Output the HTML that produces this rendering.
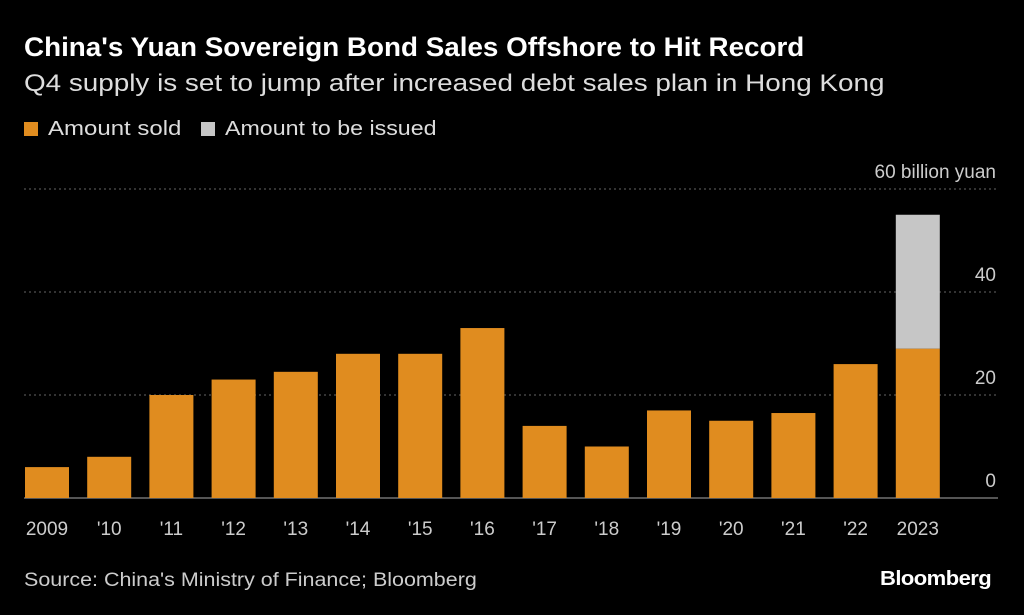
<!DOCTYPE html>
<html><head><meta charset="utf-8"><style>
body{margin:0;background:#000;width:1024px;height:615px;overflow:hidden;font-family:"Liberation Sans",sans-serif;color:#fff}
.t{position:absolute;white-space:nowrap;transform-origin:left top}
</style></head><body>
<div class="t" style="left:24px;top:32px;font-size:27px;font-weight:bold;transform:scaleX(1.03)">China's Yuan Sovereign Bond Sales Offshore to Hit Record</div>
<div class="t" style="left:24px;top:70px;font-size:24px;color:#ddd;transform:scaleX(1.16)">Q4 supply is set to jump after increased debt sales plan in Hong Kong</div>
<div class="t" style="left:24px;top:118px;font-size:20px;color:#ddd"><span style="display:inline-block;width:14px;height:14px;background:#e08c1f;margin-right:10px;vertical-align:-1px"></span><span style="display:inline-block;transform:scaleX(1.2);transform-origin:left">Amount sold</span></div>
<div class="t" style="left:201px;top:118px;font-size:20px;color:#ddd"><span style="display:inline-block;width:14px;height:14px;background:#c6c6c6;margin-right:10px;vertical-align:-1px"></span><span style="display:inline-block;transform:scaleX(1.16);transform-origin:left">Amount to be issued</span></div>
<svg id="chart" width="1024" height="615" style="position:absolute;left:0;top:0"></svg>
<div class="t" style="left:24px;top:570px;font-size:19px;color:#ccc;transform:scaleX(1.13)">Source: China's Ministry of Finance; Bloomberg</div>
<div class="t" style="left:880px;top:568px;font-size:20px;font-weight:bold;letter-spacing:-0.5px;transform:scaleX(1.1)">Bloomberg</div>
<script>
const categories=["2009","'10","'11","'12","'13","'14","'15","'16","'17","'18","'19","'20","'21","'22","2023"];
const sold=[6,8,20,23,24.5,28,28,33,14,10,17,15,16.5,26,29];
const toBeIssued=[0,0,0,0,0,0,0,0,0,0,0,0,0,0,26];
const yTicks=[0,20,40,60];
const yTickLabels=["0","20","40","60 billion yuan"];
const svg=document.getElementById('chart');
const NS='http://www.w3.org/2000/svg';
const y0=498,pxPerUnit=103/20;
const y=v=>y0-v*pxPerUnit;
const xc=i=>47+i*62.2;
const bw=44;
function mk(tag,attrs){const e=document.createElementNS(NS,tag);for(const k in attrs)e.setAttribute(k,attrs[k]);svg.appendChild(e);return e;}
yTicks.forEach((t,i)=>{
  const l=mk('line',{x1:24,x2:998,y1:y(t),y2:y(t),stroke:t===0?'#aaa':'#666','stroke-dasharray':t===0?'':'2,3','stroke-width':1});
  
  
  const tx=mk('text',{x:996,y:y(t)-11,'text-anchor':'end',fill:'#ccc','font-size':19,'font-family':'Liberation Sans, sans-serif'});
  tx.textContent=yTickLabels[i];
  
  
});
categories.forEach((c,i)=>{
  const r=mk('rect',{x:xc(i)-bw/2,y:y(sold[i]),width:bw,height:sold[i]*pxPerUnit,fill:'#e08c1f'});
  
  
  if(toBeIssued[i]>0){
    const r2=mk('rect',{x:xc(i)-bw/2,y:y(sold[i]+toBeIssued[i]),width:bw,height:toBeIssued[i]*pxPerUnit,fill:'#c6c6c6'});
    
    
  }
  const t=mk('text',{x:xc(i),y:535,'text-anchor':'middle',fill:'#ccc','font-size':19,'font-family':'Liberation Sans, sans-serif'});
  t.textContent=c;
  
  
});
</script>
</body></html>
